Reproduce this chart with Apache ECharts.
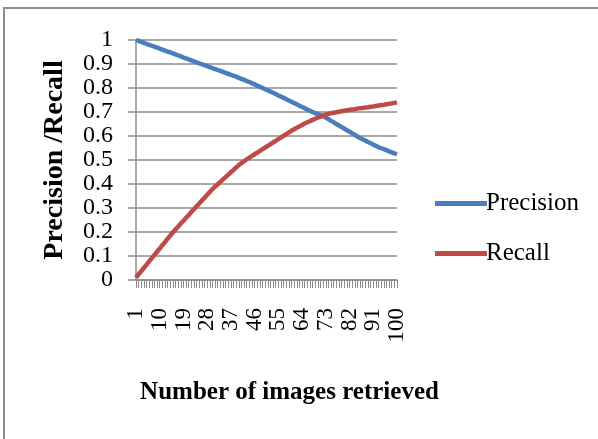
<!DOCTYPE html>
<html><head><meta charset="utf-8">
<script src="https://cdn.jsdelivr.net/npm/echarts@6/dist/echarts.min.js"></script>
<style>
html,body{margin:0;padding:0;background:#fff;}
#frame{position:absolute;left:3px;top:7px;width:600px;height:440px;border-left:2px solid #8c8c8c;border-top:2px solid #8c8c8c;}
#c{position:absolute;left:0;top:0;width:598px;height:439px;}
</style></head>
<body>
<div id="frame"></div>
<div id="c"></div>
<script>
const categories = [];
for (let i = 1; i <= 100; i++) categories.push(String(i));
const precision = [
1.000,0.996,0.992,0.988,0.984,0.980,0.976,0.972,0.968,0.964,
0.960,0.956,0.952,0.948,0.944,0.940,0.936,0.932,0.927,0.923,
0.919,0.915,0.911,0.907,0.903,0.899,0.895,0.891,0.887,0.883,
0.879,0.875,0.871,0.867,0.863,0.859,0.855,0.851,0.847,0.842,
0.838,0.834,0.829,0.825,0.820,0.815,0.810,0.805,0.800,0.795,
0.790,0.785,0.780,0.775,0.769,0.764,0.759,0.753,0.748,0.743,
0.737,0.732,0.726,0.721,0.716,0.710,0.705,0.700,0.695,0.691,
0.687,0.683,0.677,0.670,0.663,0.657,0.650,0.644,0.637,0.631,
0.624,0.618,0.611,0.605,0.598,0.592,0.586,0.581,0.575,0.570,
0.564,0.559,0.553,0.549,0.545,0.541,0.536,0.532,0.528,0.524];
const recall = [
0.010,0.024,0.037,0.051,0.064,0.078,0.091,0.104,0.118,0.131,
0.145,0.158,0.172,0.185,0.199,0.211,0.223,0.235,0.247,0.259,
0.271,0.283,0.295,0.307,0.319,0.331,0.343,0.355,0.367,0.379,
0.389,0.399,0.409,0.419,0.429,0.439,0.449,0.459,0.469,0.479,
0.487,0.495,0.503,0.510,0.517,0.524,0.531,0.538,0.545,0.552,
0.559,0.566,0.573,0.580,0.587,0.594,0.601,0.608,0.615,0.622,
0.628,0.634,0.640,0.646,0.652,0.657,0.662,0.667,0.672,0.677,
0.681,0.685,0.689,0.692,0.695,0.697,0.699,0.701,0.703,0.705,
0.707,0.709,0.710,0.712,0.714,0.716,0.717,0.719,0.720,0.722,
0.723,0.725,0.727,0.729,0.730,0.732,0.734,0.736,0.738,0.740];
const yTicks = ['0','0.1','0.2','0.3','0.4','0.5','0.6','0.7','0.8','0.9','1'];
const seriesNames = ['Precision','Recall'];
const colors = ['#4a7ebb','#be4b48'];
const font = 'Liberation Serif';

const chart = echarts.init(document.getElementById('c'), null, {renderer:'canvas'});
chart.setOption({
  animation:false,
  backgroundColor:'transparent',
  grid:{left:136,right:201,top:40,bottom:159,containLabel:false},
  legend:{
    orient:'vertical', left:430, top:186, itemGap:25,
    itemWidth:52, itemHeight:5,
    icon:'rect',
    textStyle:{fontFamily:font,fontSize:25,color:'#000',padding:[0,0,0,-6]},
    data:seriesNames.map((n,i)=>({name:n,icon:'rect',itemStyle:{color:colors[i]}}))
  },
  xAxis:{
    type:'category', boundaryGap:false, data:categories,
    name:'Number of images retrieved', nameLocation:'middle', nameGap:100,
    nameTextStyle:{fontFamily:font,fontSize:25,fontWeight:'bold',color:'#000',padding:[0,0,0,46]},
    axisLine:{lineStyle:{color:'#8c8c8c',width:1.5}},
    axisTick:{show:true,interval:0,length:8,lineStyle:{color:'#8c8c8c'}},
    axisLabel:{interval:8,rotate:90,margin:28,fontFamily:font,fontSize:23,color:'#000',
      showMinLabel:true,showMaxLabel:true,hideOverlap:false},
    splitLine:{show:false}
  },
  yAxis:{
    type:'value', min:0, max:1, interval:0.1,
    name:'Precision /Recall', nameLocation:'middle', nameGap:67,
    nameTextStyle:{fontFamily:font,fontSize:28,fontWeight:'bold',color:'#000'},
    axisLine:{show:true,lineStyle:{color:'#8c8c8c',width:1.5}},
    axisTick:{show:true,length:8,lineStyle:{color:'#8c8c8c',width:1.5}},
    axisLabel:{margin:23,fontFamily:font,fontSize:24,color:'#000',
      formatter:(v)=>yTicks[Math.round(v*10)]},
    splitLine:{show:true,lineStyle:{color:'#8c8c8c',width:1.5}}
  },
  series:[
    {name:seriesNames[0],type:'line',data:precision,showSymbol:false,
     lineStyle:{color:colors[0],width:4.5},itemStyle:{color:colors[0]}},
    {name:seriesNames[1],type:'line',data:recall,showSymbol:false,
     lineStyle:{color:colors[1],width:4.5},itemStyle:{color:colors[1]}}
  ]
});
</script>
</body></html>
